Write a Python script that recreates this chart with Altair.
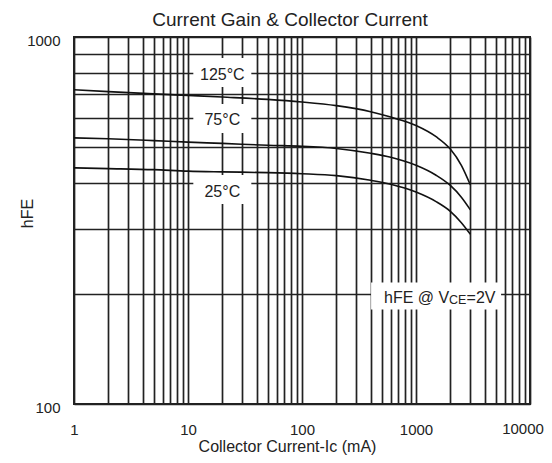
import altair as alt
import pandas as pd

# ---- data ----
title_text = ["Current Gain & Collector Current"]
current_ma = [1, 2, 5, 10, 20, 50, 100, 200, 400, 600, 1000, 1500, 2000, 2500, 3000]
hfe_125 = [718, 710, 700, 693, 686, 676, 665, 650, 626, 605, 574, 535, 495, 447, 395]
hfe_75 = [531, 528, 522, 517, 513, 507, 504, 497, 482, 470, 447, 420, 394, 366, 338]
hfe_25 = [440, 438, 435, 431, 429, 427, 424, 419, 407, 397, 378, 356, 335, 312, 290]

series_names = ["125°C", "75°C", "25°C"]
label_x = [20, 20, 20]
label_y = [800, 600, 384]

note_x = [1500]
note_y = [197]

x_grid = [1, 2, 3, 4, 5, 6, 7, 8, 9,
          10, 20, 30, 40, 50, 60, 70, 80, 90,
          100, 200, 300, 400, 500, 600, 700, 800, 900,
          1000, 2000, 3000, 4000, 5000, 6000, 7000, 8000, 9000, 10000]
y_grid = [100, 200, 300, 400, 500, 600, 700, 800, 900, 1000]
x_last_label = [10000]

FONT = "Liberation Sans"
INK = "#222"
W, H = 456, 367

rows = []
for name, vals in zip(series_names, [hfe_125, hfe_75, hfe_25]):
    for c, h in zip(current_ma, vals):
        rows.append({"ic": c, "hfe": h, "series": name})
curves = pd.DataFrame(rows)
labels = pd.DataFrame({"ic": label_x, "hfe": label_y, "text": series_names})
note = pd.DataFrame({"ic": note_x, "hfe": note_y})
title_df = pd.DataFrame({"text": title_text})
last_df = pd.DataFrame({"ic": x_last_label, "text": [str(v) for v in x_last_label]})

xaxis = alt.Axis(
    values=x_grid,
    labelExpr="indexof([1,10,100,1000], datum.value) >= 0 ? format(datum.value, 'd') : ''",
    grid=True, gridColor=INK, gridWidth=1.7, gridOpacity=1,
    ticks=False, domain=False, labelFlush=False, labelOverlap=False,
    labelFont=FONT, labelFontSize=15, labelColor=INK,
    labelPadding=25, labelBaseline="middle",
    title="Collector Current-Ic (mA)", titleFont=FONT, titleFontSize=16,
    titleFontWeight="normal", titleColor=INK,
    titleX=213, titleY=42, titleBaseline="middle", titleAlign="center",
)
yaxis = alt.Axis(
    values=y_grid,
    labelExpr="indexof([100,1000], datum.value) >= 0 ? format(datum.value, 'd') : ''",
    grid=True, gridColor=INK, gridWidth=1.7, gridOpacity=1,
    ticks=False, domain=False, labelOverlap=False,
    labelFont=FONT, labelFontSize=15, labelColor=INK,
    labelPadding=14, labelOffset=3,
    title="hFE", titleFont=FONT, titleFontSize=16,
    titleFontWeight="normal", titleColor=INK,
    titleX=-47, titleY=176, titleBaseline="middle", titleAlign="center", titleAngle=270,
)

X = alt.X("ic:Q", scale=alt.Scale(type="log", domain=[1, 10000], nice=False), axis=xaxis)
Y = alt.Y("hfe:Q", scale=alt.Scale(type="log", domain=[100, 1000], nice=False), axis=yaxis)

lines = alt.Chart(curves).mark_line(
    interpolate="monotone", color="#111", strokeWidth=1.6
).encode(x=X, y=Y, detail="series:N")

boxes = alt.Chart(labels).mark_point(
    shape="M-1,-0.5H1V0.5H-1Z", filled=True, fill="white", opacity=1, strokeWidth=0, size=3364
).encode(x=X, y=Y)

texts = alt.Chart(labels).mark_text(
    font=FONT, fontSize=16, color=INK, align="center", baseline="middle", dy=2
).encode(x=X, y=Y, text="text:N")

note_box = alt.Chart(note).mark_point(
    shape="M-1,-0.2077H1V0.2077H-1Z", filled=True, fill="white", opacity=1, strokeWidth=0, size=16900
).encode(x=X, y=Y)

note_a = alt.Chart(note).mark_text(
    font=FONT, fontSize=16, color=INK, align="left", baseline="middle", dx=-52, dy=2
).encode(x=X, y=Y, text=alt.value("hFE @ V"))
note_b = alt.Chart(note).mark_text(
    font=FONT, fontSize=12.5, color=INK, align="left", baseline="middle", dx=13, dy=4
).encode(x=X, y=Y, text=alt.value("CE"))
note_c = alt.Chart(note).mark_text(
    font=FONT, fontSize=16, color=INK, align="left", baseline="middle", dx=30.5, dy=2
).encode(x=X, y=Y, text=alt.value("=2V"))

last_label = alt.Chart(last_df).mark_text(
    font=FONT, fontSize=15, color=INK, align="center", baseline="middle", dx=-7
).encode(x=X, y=alt.value(H + 25), text="text:N")

title_mark = alt.Chart(title_df).mark_text(
    font=FONT, fontSize=19, color=INK, align="center", baseline="alphabetic"
).encode(x=alt.value(216), y=alt.value(-11), text="text:N")

chart = alt.layer(lines, boxes, texts, note_box, note_a, note_b, note_c, last_label, title_mark).properties(
    width=W, height=H,
    autosize=alt.AutoSizeParams(type="none"),
    padding={"left": 66, "top": 29, "right": 14, "bottom": 51},
).configure_view(stroke=INK, strokeWidth=2)

chart.save("out.html", embed_options={"renderer": "svg", "actions": False})
